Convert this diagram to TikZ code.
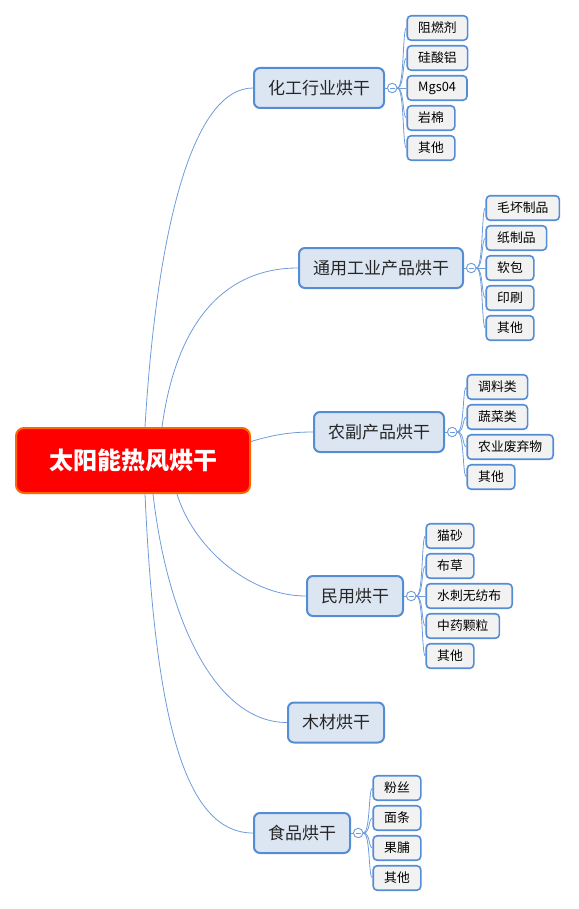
\documentclass[tikz,border=0pt]{standalone}
\usepackage{fontspec}
\setmainfont{Noto Sans CJK SC}
\usetikzlibrary{positioning}
\definecolor{rootred}{RGB}{255,0,0}
\definecolor{rootedge}{RGB}{255,102,0}
\definecolor{topicfill}{RGB}{220,230,242}
\definecolor{topicedge}{RGB}{85,141,213}
\definecolor{leaffill}{RGB}{242,242,242}
\definecolor{linkblue}{RGB}{110,155,220}

\begin{document}
\begin{tikzpicture}[x=1pt, y=-1pt,
    root/.style={rectangle, draw=rootedge, fill=rootred, line width=2pt,
    rounded corners=8pt, minimum width=234pt, minimum height=65pt,
    text=white, font=\fontsize{24}{28}\selectfont\bfseries},
    topic/.style={rectangle, draw=topicedge, fill=topicfill, line width=2pt,
    rounded corners=6pt, inner xsep=14pt, minimum height=40pt,
    text=black!85, font=\fontsize{17}{20}\selectfont, anchor=west},
    leaf/.style={rectangle, draw=topicedge, fill=leaffill, line width=1.6pt,
    rounded corners=4pt, inner xsep=11pt, minimum height=24.5pt,
    font=\fontsize{12.8}{15}\selectfont},
    fold/.style={circle, draw=linkblue, fill=white, line width=0.9pt,
    minimum size=9.5pt, inner sep=0pt,
    path picture={\draw[linkblue, line width=0.9pt]
    ([xshift=2.2pt]path picture bounding box.west) --
    ([xshift=-2.2pt]path picture bounding box.east);}},
    link/.style={draw=linkblue, line width=0.8pt}]

\useasboundingbox (0,0) rectangle (578,909);

\node [root] (sun) at (133,460.5) {太阳能热风烘干};

\node [topic] (chem) at (253,88) {化工行业烘干};
\node [topic] (indus) at (298,268) {通用工业产品烘干};
\node [topic] (agri) at (313,432) {农副产品烘干};
\node [topic] (civil) at (306,596) {民用烘干};
\node [topic] (wood) at (287,722.5) {木材烘干};
\node [topic] (food) at (253,833) {食品烘干};

\node [fold, right=2pt of chem] (chemf) {};
\node [fold, right=2pt of indus] (indusf) {};
\node [fold, right=2pt of agri] (agrif) {};
\node [fold, right=2pt of civil] (civilf) {};
\node [fold, right=2pt of food] (foodf) {};

% leaves
\node [leaf, right=9pt of chemf, yshift=60pt] (chem1) {阻燃剂};
\node [leaf, right=9pt of chemf, yshift=30pt] (chem2) {硅酸铝};
\node [leaf, right=9pt of chemf] (chem3) {Mgs04};
\node [leaf, right=9pt of chemf, yshift=-30pt] (chem4) {岩棉};
\node [leaf, right=9pt of chemf, yshift=-60pt] (chem5) {其他};

\node [leaf, right=9pt of indusf, yshift=60pt] (indus1) {毛坏制品};
\node [leaf, right=9pt of indusf, yshift=30pt] (indus2) {纸制品};
\node [leaf, right=9pt of indusf] (indus3) {软包};
\node [leaf, right=9pt of indusf, yshift=-30pt] (indus4) {印刷};
\node [leaf, right=9pt of indusf, yshift=-60pt] (indus5) {其他};

\node [leaf, right=9pt of agrif, yshift=45pt] (agri1) {调料类};
\node [leaf, right=9pt of agrif, yshift=15pt] (agri2) {蔬菜类};
\node [leaf, right=9pt of agrif, yshift=-15pt] (agri3) {农业废弃物};
\node [leaf, right=9pt of agrif, yshift=-45pt] (agri4) {其他};

\node [leaf, right=9pt of civilf, yshift=60pt] (civil1) {猫砂};
\node [leaf, right=9pt of civilf, yshift=30pt] (civil2) {布草};
\node [leaf, right=9pt of civilf] (civil3) {水刺无纺布};
\node [leaf, right=9pt of civilf, yshift=-30pt] (civil4) {中药颗粒};
\node [leaf, right=9pt of civilf, yshift=-60pt] (civil5) {其他};

\node [leaf, right=9pt of foodf, yshift=45pt] (food1) {粉丝};
\node [leaf, right=9pt of foodf, yshift=15pt] (food2) {面条};
\node [leaf, right=9pt of foodf, yshift=-15pt] (food3) {果脯};
\node [leaf, right=9pt of foodf, yshift=-45pt] (food4) {其他};

% main branches
\path [link] ([xshift=12pt]sun.north) .. controls +(12,-200) and +(-60,0) .. (chem.west);
\path [link] ([xshift=29pt]sun.north) .. controls +(15,-110) and +(-70,0) .. (indus.west);
\path [link] ([yshift=19pt]sun.east) .. controls +(20,-6) and +(-25,0) .. (agri.west);
\path [link] ([xshift=44pt]sun.south) .. controls +(15,50) and +(-60,0) .. (civil.west);
\path [link] ([xshift=20pt]sun.south) .. controls +(15,130) and +(-70,0) .. (wood.west);
\path [link] ([xshift=12pt]sun.south) .. controls +(10,220) and +(-70,0) .. (food.west);

\path [link] (chem) -- (chemf);
\path [link] (indus) -- (indusf);
\path [link] (agri) -- (agrif);
\path [link] (civil) -- (civilf);
\path [link] (food) -- (foodf);

% leaf links
\path [link] (chemf.east) .. controls +(7,0) and +(-4,0) .. (chem1.west);
\path [link] (chemf.east) .. controls +(7,0) and +(-4,0) .. (chem2.west);
\path [link] (chemf.east) -- (chem3.west);
\path [link] (chemf.east) .. controls +(7,0) and +(-4,0) .. (chem4.west);
\path [link] (chemf.east) .. controls +(7,0) and +(-4,0) .. (chem5.west);

\path [link] (indusf.east) .. controls +(7,0) and +(-4,0) .. (indus1.west);
\path [link] (indusf.east) .. controls +(7,0) and +(-4,0) .. (indus2.west);
\path [link] (indusf.east) -- (indus3.west);
\path [link] (indusf.east) .. controls +(7,0) and +(-4,0) .. (indus4.west);
\path [link] (indusf.east) .. controls +(7,0) and +(-4,0) .. (indus5.west);

\path [link] (agrif.east) .. controls +(7,0) and +(-4,0) .. (agri1.west);
\path [link] (agrif.east) .. controls +(7,0) and +(-4,0) .. (agri2.west);
\path [link] (agrif.east) .. controls +(7,0) and +(-4,0) .. (agri3.west);
\path [link] (agrif.east) .. controls +(7,0) and +(-4,0) .. (agri4.west);

\path [link] (civilf.east) .. controls +(7,0) and +(-4,0) .. (civil1.west);
\path [link] (civilf.east) .. controls +(7,0) and +(-4,0) .. (civil2.west);
\path [link] (civilf.east) -- (civil3.west);
\path [link] (civilf.east) .. controls +(7,0) and +(-4,0) .. (civil4.west);
\path [link] (civilf.east) .. controls +(7,0) and +(-4,0) .. (civil5.west);

\path [link] (foodf.east) .. controls +(7,0) and +(-4,0) .. (food1.west);
\path [link] (foodf.east) .. controls +(7,0) and +(-4,0) .. (food2.west);
\path [link] (foodf.east) .. controls +(7,0) and +(-4,0) .. (food3.west);
\path [link] (foodf.east) .. controls +(7,0) and +(-4,0) .. (food4.west);
\end{tikzpicture}
\end{document}
